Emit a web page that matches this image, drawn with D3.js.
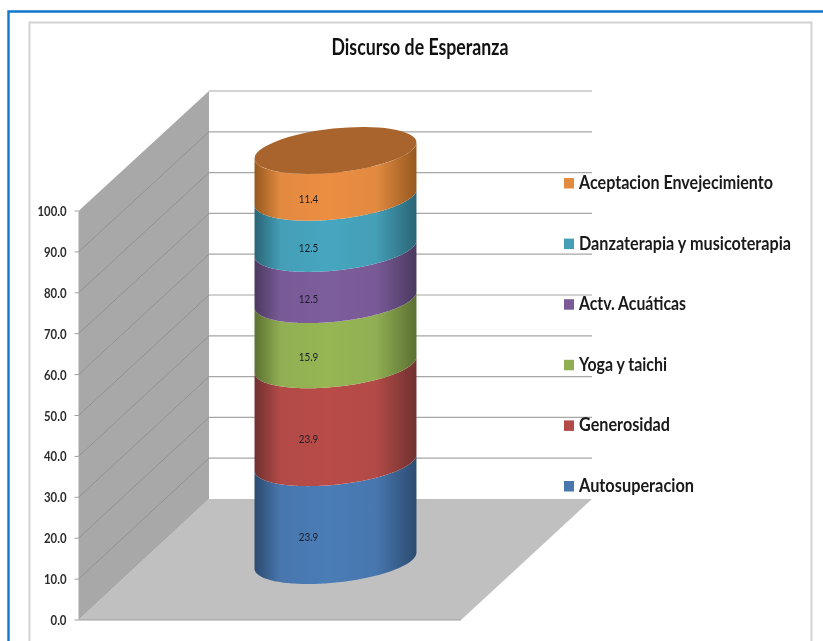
<!DOCTYPE html>
<html><head><meta charset="utf-8">
<script src="https://cdn.jsdelivr.net/npm/d3@7"></script>
<style>html,body{margin:0;padding:0;background:#fff}svg{display:block;filter:blur(.35px)}text{font-family:Lato,"Open Sans",sans-serif}</style>
</head><body><svg id="c" width="823" height="641"></svg>
<script>
const titleText = "Discurso de Esperanza";
const categories = ["Autosuperacion","Generosidad","Yoga y taichi","Actv. Acuáticas","Danzaterapia y musicoterapia","Aceptacion Envejecimiento"];
const values = [23.9,23.9,15.9,12.5,12.5,11.4];
const colors = ["#4A7CB6","#B94B48","#96B654","#7D5E9C","#46A6C0","#EC8E42"];
const edgeColors = ["#2C4B70","#713130","#5B7032","#4B3960","#2A6576","#96591F"];
const midColors = ["#4877AE","#B24A47","#90AF52","#795A97","#449EB6","#E28A40"];
const topColor = "#A9642D";
const ticks = [0,10,20,30,40,50,60,70,80,90,100];

const svg = d3.select("#c");
// frame
svg.append("path").attr("d","M8.5,641V11.5H823").attr("fill","none").attr("stroke","#0F77CC").attr("stroke-width",2.4);
svg.append("path").attr("d","M29.5,641V22.5H811.5V641").attr("fill","none").attr("stroke","#D2D2D2").attr("stroke-width",2);
svg.append("text").attr("x",420).attr("y",54.5).attr("text-anchor","middle").attr("font-size",22).attr("font-weight",700).attr("fill","#111")
  .attr("textLength",177).attr("lengthAdjust","spacingAndGlyphs").text(titleText);

// 3D axes
const yFront = d3.scaleLinear().domain([0,100]).range([620,211]);
const yBack  = d3.scaleLinear().domain([0,100]).range([499,91]);
const xFront = 78.5, xBack = 209, xBackR = 592, xFrontR = 461;
const line = d3.line();
svg.append("path").attr("d",line([[xFront,yFront(0)],[xBack,yBack(0)],[xBackR,yBack(0)],[xFrontR,yFront(0)]])+"Z").attr("fill","#C0C0C0");
svg.append("path").attr("d",line([[xFront,yFront(0)],[xFront,yFront(100)],[xBack,yBack(100)],[xBack,yBack(0)]])+"Z").attr("fill","#A8A8A8");
ticks.forEach(t=>{
  if(t>0) svg.append("line").attr("x1",xBack).attr("x2",xBackR).attr("y1",yBack(t)).attr("y2",yBack(t)).attr("stroke","#A6A6A6").attr("stroke-width",1.2);
  if(t>0&&t<100) svg.append("line").attr("x1",xFront).attr("x2",xBack).attr("y1",yFront(t)).attr("y2",yBack(t)).attr("stroke","#8C8C8C").attr("stroke-width",.8);
  svg.append("line").attr("x1",xFront-4).attr("x2",xFront).attr("y1",yFront(t)).attr("y2",yFront(t)).attr("stroke","#A0A0A0").attr("stroke-width",1);
  svg.append("text").attr("x",66.5).attr("y",yFront(t)+5).attr("text-anchor","end").attr("font-size",14).attr("font-weight",700).attr("fill","#2b2b2b")
    .attr("textLength",t===100?29:t===0?16:22.5).attr("lengthAdjust","spacingAndGlyphs").text(t.toFixed(1));
});
svg.append("line").attr("x1",xFront).attr("x2",xFrontR).attr("y1",yFront(0)).attr("y2",yFront(0)).attr("stroke","#A0A0A0").attr("stroke-width",1.2);

// cylinder
const cx = 335.5, rotDeg = -6.1, ra = 81.4, rb = 22;
const total = d3.sum(values);
const yCyl = d3.scaleLinear().domain([0,total]).range([560.5,150.5]);
const rot = rotDeg*Math.PI/180;
const pt = (t,cy)=>[cx+ra*Math.cos(t)*Math.cos(rot)-rb*Math.sin(t)*Math.sin(rot), cy+ra*Math.cos(t)*Math.sin(rot)+rb*Math.sin(t)*Math.cos(rot)];
const tR = Math.atan2(-rb*Math.sin(rot), ra*Math.cos(rot)), tL = tR+Math.PI;
const lowerArc = cy=>d3.range(0,101).map(i=>pt(tR+(tL-tR)*i/100,cy));
const defs = svg.append("defs");
const stack = d3.cumsum(values);
values.forEach((v,i)=>{
  const g = defs.append("linearGradient").attr("id","g"+i);
  [[0,edgeColors[i]],[.16,midColors[i]],[.45,colors[i]],[.75,midColors[i]],[1,edgeColors[i]]]
    .forEach(([o,c])=>g.append("stop").attr("offset",o).attr("stop-color",c));
  const y0 = yCyl(stack[i]-v), y1 = yCyl(stack[i]);
  const bottom = lowerArc(y0), top = lowerArc(y1).reverse();
  svg.append("path").attr("d",line(bottom.concat(top))+"Z").attr("fill",`url(#g${i})`);
});
svg.append("ellipse").attr("cx",cx).attr("cy",yCyl(total)).attr("rx",ra).attr("ry",rb)
  .attr("transform",`rotate(${rotDeg} ${cx} ${yCyl(total)})`).attr("fill",topColor);
values.forEach((v,i)=>{
  svg.append("text").attr("x",308.5).attr("y",yCyl(stack[i]-v/2)+29).attr("text-anchor","middle").attr("font-size",12).attr("fill","#1d1d2a")
    .attr("textLength",19.5).attr("lengthAdjust","spacingAndGlyphs").text(v.toFixed(1));
});

// legend
const legendY = d3.scalePoint().domain(categories).range([486,183]);
const legendW = [115,91,88,107,212,194];
categories.forEach((c,i)=>{
  const y = legendY(c);
  svg.append("rect").attr("x",564).attr("y",y-5).attr("width",10).attr("height",10.5).attr("fill",midColors[i]);
  svg.append("text").attr("x",579).attr("y",y+6).attr("font-size",18.5).attr("font-weight",700).attr("fill","#1a1a1a")
    .attr("textLength",legendW[i]).attr("lengthAdjust","spacingAndGlyphs").text(c);
});
</script></body></html>
